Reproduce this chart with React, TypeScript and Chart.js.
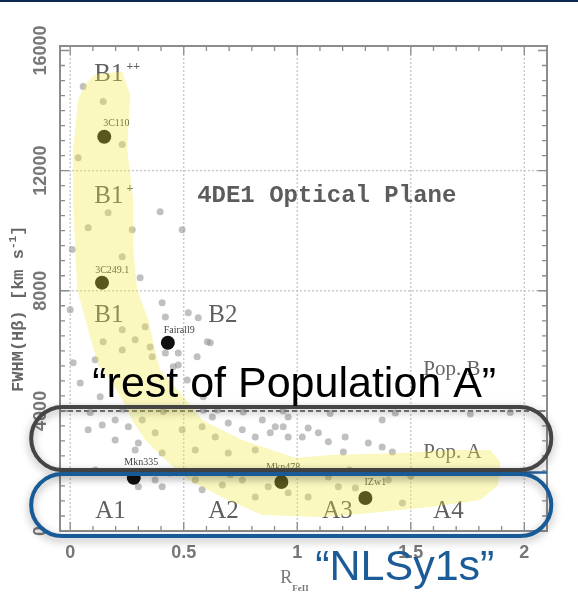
import { useEffect, useRef } from 'react';
import { Chart, registerables } from 'chart.js';

Chart.register(...registerables);

// Comparison sample: R_FeII and FWHM(Hβ) in km/s
const sampleR = [
  0.057, 0.145, 0.229, 0.035, 0.396, 0.167, 0.273, 0.493, 0.079, 0.009,
  0.308, 0.229, 0.405, 0.0, 0.229, 0.33, 0.419, 0.52, 0.564, 0.604,
  0.145, 0.229, 0.286, 0.361, 0.419, 0.476, 0.11, 0.476, 0.559, 0.617,
  0.352, 0.454, 0.515, 0.044, 0.013, 0.132, 0.586, 0.648,
  0.088, 0.233, 0.41, 0.586, 0.762, 0.938, 1.145, 1.432, 1.762, 1.938,
  0.079, 0.141, 0.198, 0.256, 0.317, 0.374, 0.3, 0.286, 0.198, 0.405,
  0.626, 0.696, 0.758, 0.815, 0.846, 0.903, 0.96, 0.96, 0.815, 0.696,
  0.639, 0.551, 0.581, 0.493, 1.048, 1.093, 1.137, 1.211, 1.203, 1.313,
  1.374, 1.419, 1.374, 1.022, 0.938, 0.881,
  0.3, 0.405, 0.374, 0.551, 0.581, 0.67, 0.758, 0.815, 0.872, 0.96,
  0.11, 1.048, 1.181, 1.256, 1.463, 1.401, 1.137, 0.44, 0.705, 1.1,
  1.23, 1.5, 1.63,
];
const sampleFwhm = [
  14800, 14300, 12870, 12430, 10630, 10600, 10030, 10030, 10100, 9370,
  8430, 9130, 7600, 7370, 6700, 6800, 7130, 7270, 7100, 6300,
  6300, 6030, 6370, 5800, 5930, 5930, 5700, 5530, 5800, 6270,
  6130, 5470, 5030, 4930, 5600, 4470, 4470, 4030,
  3950, 4050, 3980, 4020, 3960, 4000, 3910, 3930, 3900, 3950,
  3370, 3530, 3700, 3470, 3700, 3270, 2930, 2700, 3030, 2600,
  3800, 3600, 3370, 3130, 3700, 3470, 3800, 3130, 2700, 2600,
  3130, 2700, 3470, 3370, 3430, 3270, 2970, 3130, 2630, 2930,
  2800, 2630, 3700, 3130, 3470, 3270,
  1470, 1470, 1700, 1700, 1370, 1530, 1700, 1130, 1470, 1270,
  2030, 1130, 1470, 1430, 930, 1700, 1800, 1930, 1870, 1970,
  2030, 1830, 1970,
];

// Well-known sources
const namedSources = ['3C110', '3C249.1', 'Fairall9', 'Mkn335', 'Mkn478', 'IZw1'];
const namedR = [0.15, 0.14, 0.43, 0.28, 0.93, 1.3];
const namedFwhm = [13130, 8270, 6270, 1770, 1630, 1100];
const namedLabelR = [0.203, 0.185, 0.48, 0.313, 0.938, 1.344];
const namedLabelFwhm = [13470, 8600, 6600, 2200, 2030, 1530];

// Outline of the main-sequence occupation band
const bandR = [
  0.11, 0.229, 0.264, 0.251, 0.278, 0.278, 0.295, 0.344, 0.374, 0.396,
  0.493, 0.581, 0.758, 0.991, 1.145, 1.454, 1.674, 1.85, 1.894, 1.885,
  1.806, 1.586, 1.454, 1.233, 1.101, 0.969, 0.846, 0.696, 0.52, 0.419,
  0.33, 0.273, 0.229, 0.176, 0.123, 0.079, 0.031, 0.022, 0.013, 0.013,
  0.035, 0.066, 0.11,
];
const bandFwhm = [
  15200, 15300, 14530, 12700, 11030, 9370, 8030, 7030, 6030, 5370,
  4530, 3700, 3030, 2430, 2530, 2600, 2700, 2700, 2300, 1530,
  1030, 800, 700, 530, 470, 500, 530, 1030, 1700, 2370,
  3030, 3700, 4370, 5030, 5530, 6700, 8030, 9370, 11030, 12700,
  14370, 14870, 15200,
];

// NLSy1 boundary line
const boundaryR = [-0.045, 2.1];
const boundaryFwhm = [1950, 1950];

// Axis ticks
const xTickValues = [0, 0.5, 1, 1.5, 2];
const xTickLabels = ['0', '0.5', '1', '1.5', '2'];
const yTickValues = [0, 4000, 8000, 12000, 16000];
const yTickLabels = ['0', '4000', '8000', '12000', '16000'];

// Spectral-type bins
const binNames = ['B1', 'B1', 'B1', 'B2', 'A1', 'A2', 'A3', 'A4'];
const binSup = ['++', '+', '', '', '', '', '', ''];
const binR = [0.106, 0.106, 0.106, 0.608, 0.11, 0.608, 1.11, 1.599];
const binFwhm = [15000, 10930, 6970, 6970, 430, 430, 430, 430];

const popNames = ['Pop. B', 'Pop. A'];
const popR = [1.555, 1.555];
const popFwhm = [5200, 2430];

const X_MIN = -0.045;
const X_MAX = 2.1;
const Y_MIN = 0;
const Y_MAX = 16150;

function pts(xs: number[], ys: number[]) {
  return xs.map((v, i) => ({ x: v, y: ys[i] }));
}

function pill(ctx: CanvasRenderingContext2D, l: number, t: number, r: number, b: number) {
  const rad = (b - t) / 2;
  const cy = (t + b) / 2;
  ctx.beginPath();
  ctx.moveTo(l + rad, t);
  ctx.lineTo(r - rad, t);
  ctx.arc(r - rad, cy, rad, -Math.PI / 2, Math.PI / 2);
  ctx.lineTo(l + rad, b);
  ctx.arc(l + rad, cy, rad, Math.PI / 2, (3 * Math.PI) / 2);
  ctx.closePath();
}

const backdrop = {
  id: 'backdrop',
  beforeDatasetsDraw(chart: any) {
    const { ctx, chartArea: a, scales } = chart;
    const x = scales.x;
    const y = scales.y;
    ctx.save();

    // dotted grid
    ctx.strokeStyle = '#c4c4c4';
    ctx.lineWidth = 1.3;
    ctx.setLineDash([2, 2]);
    for (const v of xTickValues) {
      const px = x.getPixelForValue(v);
      ctx.beginPath();
      ctx.moveTo(px, a.top);
      ctx.lineTo(px, a.bottom);
      ctx.stroke();
    }
    for (const v of [8000, 12000]) {
      const py = y.getPixelForValue(v);
      ctx.beginPath();
      ctx.moveTo(a.left, py);
      ctx.lineTo(a.right, py);
      ctx.stroke();
    }
    // Population A / B divide
    ctx.strokeStyle = '#7a7a7a';
    ctx.lineWidth = 2;
    ctx.setLineDash([5, 3]);
    const p4 = y.getPixelForValue(4000);
    ctx.beginPath();
    ctx.moveTo(a.left, p4);
    ctx.lineTo(a.right, p4);
    ctx.stroke();

    // frame
    ctx.setLineDash([]);
    ctx.strokeStyle = '#8c8c8c';
    ctx.lineWidth = 2;
    ctx.strokeRect(a.left, a.top, a.right - a.left, a.bottom - a.top);

    // inward ticks
    ctx.lineWidth = 1.3;
    ctx.strokeStyle = '#8c8c8c';
    for (let i = 0; i <= 21; i++) {
      const v = i / 10;
      const px = x.getPixelForValue(v);
      const len = i % 5 === 0 ? 9 : 5;
      ctx.beginPath();
      ctx.moveTo(px, a.bottom);
      ctx.lineTo(px, a.bottom - len);
      ctx.moveTo(px, a.top);
      ctx.lineTo(px, a.top + len);
      ctx.stroke();
    }
    for (let i = 0; i <= 32; i++) {
      const v = i * 500;
      const py = y.getPixelForValue(v);
      const len = i % 8 === 0 ? 9 : 5;
      ctx.beginPath();
      ctx.moveTo(a.left, py);
      ctx.lineTo(a.left + len, py);
      ctx.moveTo(a.right, py);
      ctx.lineTo(a.right - len, py);
      ctx.stroke();
    }

    // tick labels
    ctx.fillStyle = '#777';
    ctx.font = 'bold 18px "Liberation Sans", Arial, sans-serif';
    ctx.textAlign = 'center';
    ctx.textBaseline = 'middle';
    xTickValues.forEach((v, i) => {
      ctx.fillText(xTickLabels[i], x.getPixelForValue(v), a.bottom + 22);
    });
    yTickValues.forEach((v, i) => {
      ctx.save();
      ctx.translate(a.left - 19, Math.max(y.getPixelForValue(v), a.top - 3));
      ctx.rotate(-Math.PI / 2);
      ctx.fillText(yTickLabels[i], 0, 0);
      ctx.restore();
    });

    // y-axis title
    ctx.save();
    ctx.translate(a.left - 41, y.getPixelForValue(7400));
    ctx.rotate(-Math.PI / 2);
    ctx.fillStyle = '#666';
    ctx.textBaseline = 'middle';
    ctx.textAlign = 'left';
    const mainFont = 'bold 17px "Liberation Mono", monospace';
    const supFont = 'bold 11px "Liberation Mono", monospace';
    const partA = 'FWHM(H\u03b2) [km s';
    const partB = '-1';
    const partC = ']';
    ctx.font = mainFont;
    const wA = ctx.measureText(partA).width;
    const wC = ctx.measureText(partC).width;
    ctx.font = supFont;
    const wB = ctx.measureText(partB).width;
    let cx = -(wA + wB + wC) / 2;
    ctx.font = mainFont;
    ctx.fillText(partA, cx, 0);
    cx += wA;
    ctx.font = supFont;
    ctx.fillText(partB, cx, -6);
    cx += wB;
    ctx.font = mainFont;
    ctx.fillText(partC, cx, 0);
    ctx.restore();

    // x-axis title
    ctx.fillStyle = '#777';
    ctx.textAlign = 'left';
    ctx.textBaseline = 'alphabetic';
    ctx.font = '18px "Liberation Serif", serif';
    const rx = x.getPixelForValue(0.925);
    ctx.fillText('R', rx, a.bottom + 52);
    const rw = ctx.measureText('R').width;
    ctx.font = 'bold 9px "Liberation Serif", serif';
    ctx.fillText('FeII', rx + rw, a.bottom + 60);

    // plot title
    ctx.fillStyle = '#5c5c5c';
    ctx.font = 'bold 24px "Liberation Mono", monospace';
    ctx.fillText('4DE1 Optical Plane', x.getPixelForValue(0.559), y.getPixelForValue(10970));

    // bin labels
    binNames.forEach((name, i) => {
      const px = x.getPixelForValue(binR[i]);
      const py = y.getPixelForValue(binFwhm[i]);
      ctx.fillStyle = '#5f5f5f';
      ctx.font = '25px "Liberation Serif", serif';
      ctx.fillText(name, px, py);
      if (binSup[i]) {
        const w = ctx.measureText(name).width;
        ctx.font = 'bold 12px "Liberation Serif", serif';
        ctx.fillText(binSup[i], px + w + 3, py - 11);
      }
    });

    // population labels
    ctx.fillStyle = '#666';
    ctx.font = '21px "Liberation Serif", serif';
    popNames.forEach((name, i) => {
      ctx.fillText(name, x.getPixelForValue(popR[i]), y.getPixelForValue(popFwhm[i]));
    });

    // source names
    ctx.fillStyle = '#444';
    ctx.font = '10px "Liberation Serif", serif';
    ctx.textAlign = 'center';
    namedSources.forEach((name, i) => {
      ctx.fillText(name, x.getPixelForValue(namedLabelR[i]), y.getPixelForValue(namedLabelFwhm[i]));
    });

    ctx.restore();
  },
};

// Population A ranges highlighted over the plane
const restPopA = { rMin: -0.172, rMax: 2.119, fMin: 2030, fMax: 4130 };
const nlsy1 = { rMin: -0.172, rMax: 2.119, fMin: -170, fMax: 1900 };

const overlay = {
  id: 'overlay',
  afterDraw(chart: any) {
    const { ctx, scales, width } = chart;
    const x = scales.x;
    const y = scales.y;
    ctx.save();

    // header rule
    ctx.fillStyle = '#0c2a4f';
    ctx.fillRect(0, 0, width, 2);

    ctx.shadowColor = 'rgba(0,0,0,0.35)';
    ctx.shadowBlur = 8;
    ctx.shadowOffsetY = 3;
    ctx.lineWidth = 4;

    ctx.strokeStyle = '#454545';
    pill(ctx, x.getPixelForValue(restPopA.rMin), y.getPixelForValue(restPopA.fMax),
      x.getPixelForValue(restPopA.rMax), y.getPixelForValue(restPopA.fMin));
    ctx.stroke();

    ctx.strokeStyle = '#175a96';
    pill(ctx, x.getPixelForValue(nlsy1.rMin), y.getPixelForValue(nlsy1.fMax),
      x.getPixelForValue(nlsy1.rMax), y.getPixelForValue(nlsy1.fMin));
    ctx.stroke();

    ctx.shadowColor = 'transparent';
    ctx.shadowBlur = 0;
    ctx.shadowOffsetY = 0;

    ctx.textAlign = 'left';
    ctx.textBaseline = 'alphabetic';
    ctx.font = '43px "Liberation Sans", Arial, sans-serif';
    ctx.fillStyle = '#000';
    ctx.fillText('\u201crest of Population A\u201d', x.getPixelForValue(0.097), y.getPixelForValue(4470));

    ctx.fillStyle = '#1b5b97';
    ctx.fillText('\u201cNLSy1s\u201d', x.getPixelForValue(1.079), y.getPixelForValue(-1633));

    ctx.restore();
  },
};

export default function App() {
  const canvasRef = useRef<HTMLCanvasElement | null>(null);

  useEffect(() => {
    const canvas = canvasRef.current;
    if (!canvas) return;
    const chart = new Chart(canvas, {
      type: 'scatter',
      data: {
        datasets: [
          {
            label: 'band',
            data: pts(bandR, bandFwhm),
            showLine: true,
            fill: 'shape',
            backgroundColor: 'rgba(240,235,58,0.33)',
            borderWidth: 0,
            borderColor: 'rgba(0,0,0,0)',
            pointRadius: 0,
            tension: 0,
          },
          {
            label: 'named',
            data: pts(namedR, namedFwhm),
            backgroundColor: '#101010',
            borderWidth: 0,
            pointRadius: 7,
          },
          {
            label: 'sample',
            data: pts(sampleR, sampleFwhm),
            backgroundColor: 'rgba(150,150,150,0.6)',
            borderWidth: 0,
            pointRadius: 3.5,
          },
          {
            label: 'boundary',
            data: pts(boundaryR, boundaryFwhm),
            showLine: true,
            borderColor: '#2a68a6',
            borderWidth: 2.5,
            pointRadius: 0,
          },
        ],
      },
      options: {
        responsive: false,
        animation: false,
        events: [],
        layout: { padding: { left: 60, top: 46, right: 31, bottom: 74 } },
        scales: {
          x: { type: 'linear', min: X_MIN, max: X_MAX, display: false },
          y: { type: 'linear', min: Y_MIN, max: Y_MAX, display: false },
        },
        plugins: {
          legend: { display: false },
          tooltip: { enabled: false },
        },
      },
      plugins: [backdrop, overlay],
    });
    return () => chart.destroy();
  }, []);

  return (
    <div style={{ position: 'fixed', left: 0, top: 0, width: 578, height: 605, background: '#fff' }}>
      <canvas ref={canvasRef} width={578} height={605} style={{ display: 'block', width: 578, height: 605 }} />
    </div>
  );
}
